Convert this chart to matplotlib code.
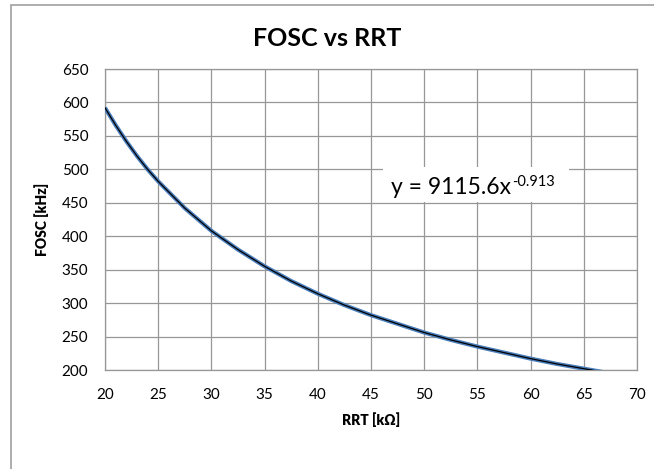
import matplotlib
matplotlib.use("Agg")
import matplotlib.pyplot as plt
from matplotlib.patches import Rectangle

# %% data
rrt = [20, 21, 22, 23, 24, 25, 27.5, 30, 32.5, 35, 37.5, 40, 42.5, 45,
       47.5, 50, 52.5, 55, 57.5, 60, 62.5, 65, 67.5]
fosc = [592, 566, 542, 520, 500, 482, 442, 408, 380, 355, 333, 314, 297, 282,
        269, 256, 245, 235, 226, 217, 209, 202, 195]
x_ticks = [20, 25, 30, 35, 40, 45, 50, 55, 60, 65, 70]
y_ticks = [200, 250, 300, 350, 400, 450, 500, 550, 600, 650]
eq_main = 'y = 9115.6x'
eq_exp = '-0.913'

# %% style
plt.rcParams['font.family'] = ['Lato', 'DejaVu Sans']
grid_col = '#979797'

W, H = 654, 469
fig = plt.figure(figsize=(W / 100, H / 100), dpi=100)

# chart area border (clipped on the right and bottom like the original)
fig.patches.append(Rectangle((11 / W, -0.1), 1.2, 1.1 - 5 / H, transform=fig.transFigure,
                             fill=False, edgecolor='#A0A0A0', linewidth=1.2))

ax = fig.add_axes([105 / W, 1 - 370 / H, (637 - 105) / W, (370 - 69) / H])
ax.plot(rrt, fosc, color='#4A7EBB', linewidth=3.0, solid_capstyle='butt', zorder=3)
ax.plot(rrt, fosc, color='black', linewidth=0.9, zorder=4)

ax.set_xlim(20, 70)
ax.set_ylim(200, 650)
ax.set_xticks(x_ticks)
ax.set_yticks(y_ticks)
ax.tick_params(length=0, labelsize=11, pad=12)
ax.tick_params(axis='x', pad=13)
ax.grid(True, color=grid_col, linewidth=0.9)
ax.set_axisbelow(True)
for s in ax.spines.values():
    s.set_color(grid_col)
    s.set_linewidth(0.9)

ax.set_xlabel('RRT [kΩ]', fontsize=10, fontweight='heavy', labelpad=7)
ax.set_ylabel('FOSC [kHz]', fontsize=10, fontweight='heavy', labelpad=9)

fig.text(0.5, 1 - 39 / H, 'FOSC vs RRT', ha='center', va='center',
         fontsize=18, fontweight='bold')

# trendline equation box
ax.add_patch(Rectangle((383 / W, 1 - 202 / H), (569 - 383) / W, 35 / H,
                       transform=fig.transFigure, facecolor='white', edgecolor='none',
                       zorder=5, clip_on=False))
t = ax.text(391 / W, 1 - 194 / H, eq_main, transform=fig.transFigure,
            ha='left', va='baseline', fontsize=16.5, zorder=6)
ax.annotate(eq_exp, xy=(1, 1), xycoords=t, xytext=(1, -9), textcoords='offset points',
            ha='left', va='bottom', fontsize=10.5, zorder=6, annotation_clip=False)

plt.savefig('out.png', dpi=100)
